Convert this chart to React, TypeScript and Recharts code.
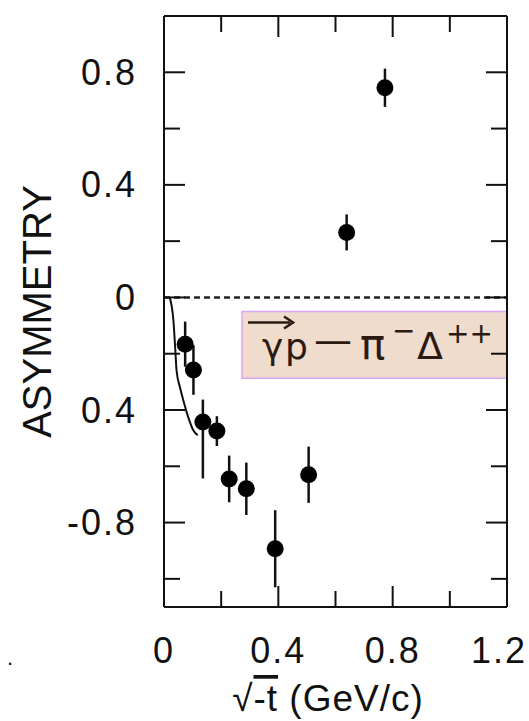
import React from 'react'
import {
  ComposedChart, Scatter, Line, XAxis, YAxis, ErrorBar,
  ReferenceLine, ReferenceArea
} from 'recharts'

const sqrtT = [0.074, 0.103, 0.136, 0.185, 0.228, 0.288, 0.389, 0.506, 0.639, 0.773]
const asymmetry = [-0.166, -0.258, -0.443, -0.475, -0.645, -0.68, -0.893, -0.63, 0.231, 0.745]
const asymErr: (number | [number, number])[] = [0.08, 0.088, [0.2, 0.08], 0.053, 0.083, 0.093, 0.137, 0.1, 0.064, 0.068]

// theory curve near t = 0
const curveT = [0.02, 0.033, 0.039, 0.044, 0.056, 0.068, 0.085, 0.103, 0.118]
const curveA = [0, -0.083, -0.177, -0.26, -0.32, -0.367, -0.426, -0.473, -0.49]

const xTicks = [0, 0.2, 0.4, 0.6, 0.8, 1.0, 1.2]
const xTickLabels = ['0', '', '0.4', '', '0.8', '', '1.2']
const yTicks = [-1.0, -0.8, -0.6, -0.4, -0.2, 0, 0.2, 0.4, 0.6, 0.8]
const yTickLabels = ['', '-0.8', '', '0.4', '', '0', '', '0.4', '', '0.8']

const points = sqrtT.map((t, i) => ({ t, a: asymmetry[i], err: asymErr[i] }))
const curve = curveT.map((t, i) => ({ t, a: curveA[i] }))

const INK = '#111'
const FONT = '"Liberation Sans", Arial, sans-serif'

// layout
const W = 529, H = 721
const TOP = 16, RIGHT = 22, Y_W = 164, X_H = 114
const PLOT_W = W - Y_W - RIGHT
const PLOT_H = H - TOP - X_H

const labelOf = (ticks: number[], labels: string[], v: number) => {
  const i = ticks.findIndex(t => Math.abs(t - v) < 1e-6)
  return i < 0 ? '' : labels[i]
}
const isMajor = (v: number) => Math.abs(v / 0.4 - Math.round(v / 0.4)) < 1e-6
const tickLen = (v: number) => (isMajor(v) ? 21 : 16)

// left axis: label + inward ticks on both the left and right sides
const LeftTick = ({ x, y, payload, index }: any) => {
  const label = labelOf(yTicks, yTickLabels, payload.value)
  const L = tickLen(payload.value)
  return (
    <g>
      <line x1={x} y1={y} x2={x + L} y2={y} stroke={INK} strokeWidth={2} />
      <line x1={x + PLOT_W} y1={y} x2={x + PLOT_W - L} y2={y} stroke={INK} strokeWidth={2} />
      {index === 0 && (
        <line x1={x + PLOT_W} y1={TOP} x2={x + PLOT_W} y2={TOP + PLOT_H} stroke={INK} strokeWidth={2} />
      )}
      {label && (
        <text x={x - 27} y={y} textAnchor="end" dominantBaseline="central"
          fontSize={36} fontFamily={FONT} letterSpacing={2} fill={INK}>{label}</text>
      )}
    </g>
  )
}

// bottom axis: label + inward ticks on both the bottom and top sides
const BottomTick = ({ x, y, payload, index }: any) => {
  const label = labelOf(xTicks, xTickLabels, payload.value)
  const L = tickLen(payload.value)
  const shift = payload.value > 1.1 ? -8 : 0
  return (
    <g>
      <line x1={x} y1={y} x2={x} y2={y - L} stroke={INK} strokeWidth={2} />
      <line x1={x} y1={y - PLOT_H} x2={x} y2={y - PLOT_H + L} stroke={INK} strokeWidth={2} />
      {index === 0 && (
        <line x1={Y_W} y1={y - PLOT_H} x2={Y_W + PLOT_W} y2={y - PLOT_H} stroke={INK} strokeWidth={2} />
      )}
      {label && (
        <text x={x + shift} y={y + 43} textAnchor="middle" dominantBaseline="central"
          fontSize={36} fontFamily={FONT} letterSpacing={2} fill={INK}>{label}</text>
      )}
    </g>
  )
}

const YTitle = ({ viewBox }: any) => {
  const cx = viewBox.x + 51
  const cy = viewBox.y + viewBox.height / 2
  return (
    <text x={cx} y={cy} transform={`rotate(-90 ${cx} ${cy})`} textAnchor="middle"
      fontSize={40} fontFamily={FONT} fill={INK}>ASYMMETRY</text>
  )
}

const XTitle = ({ viewBox }: any) => (
  <text x={viewBox.x + 164} y={viewBox.y + 104} textAnchor="middle"
    fontSize={37} fontFamily={FONT} letterSpacing={1} fill={INK}>
    √<tspan style={{ textDecoration: 'overline' }}>-t</tspan> (GeV/c)
  </text>
)

const ReactionLabel = ({ viewBox }: any) => {
  const { x, y } = viewBox
  const c = '#2a1a12'
  const f = '"DejaVu Sans", sans-serif'
  return (
    <g fill={c} fontFamily={f}>
      <line x1={x + 6} y1={y + 11} x2={x + 48} y2={y + 11} stroke={c} strokeWidth={2.5} />
      <path d={`M${x + 42} ${y + 5} L${x + 51} ${y + 11} L${x + 42} ${y + 17}`} fill="none" stroke={c} strokeWidth={2.5} />
      <text x={x + 20} y={y + 47} fontSize={36}>γ</text>
      <text x={x + 43} y={y + 47} fontSize={36}>p</text>
      <text x={x + 72} y={y + 41} fontSize={38}>—</text>
      <text x={x + 118} y={y + 47} fontSize={42}>π</text>
      <text x={x + 150} y={y + 28} fontSize={28}>−</text>
      <text x={x + 175} y={y + 47} fontSize={38}>Δ</text>
      <text x={x + 204} y={y + 31} fontSize={28}>++</text>
    </g>
  )
}

const Dot = ({ cx, cy }: any) => <circle cx={cx} cy={cy} r={8.5} fill="#000" />

export default function App() {
  return (
    <div style={{ position: 'absolute', left: 0, top: 0, width: W, height: H, background: '#fff' }}>
      <ComposedChart width={W} height={H} margin={{ top: TOP, right: RIGHT, bottom: 0, left: 0 }}>
        <XAxis dataKey="t" type="number" domain={[0, 1.2]} ticks={xTicks} interval={0}
          allowDataOverflow height={X_H} tickSize={0} tickMargin={0} tickLine={false}
          axisLine={{ stroke: INK, strokeWidth: 2 }} tick={<BottomTick />} label={<XTitle />} />
        <YAxis type="number" domain={[-1.1, 1.0]} ticks={yTicks} interval={0} allowDataOverflow
          width={Y_W} tickSize={0} tickMargin={0} tickLine={false}
          axisLine={{ stroke: INK, strokeWidth: 2 }} tick={<LeftTick />} label={<YTitle />} />

        <ReferenceLine y={0} stroke="#222" strokeWidth={2.5} strokeDasharray="6 4" />
        <ReferenceArea x1={0.273} x2={1.199} y1={-0.287} y2={-0.05} ifOverflow="visible"
          fill="#efdccd" fillOpacity={1} stroke="#dba6f5" strokeWidth={1.5}
          label={<ReactionLabel />} />

        <Line data={curve} dataKey="a" type="monotone" dot={false} stroke={INK}
          strokeWidth={2} isAnimationActive={false} />
        <Scatter data={points} dataKey="a" shape={<Dot />} isAnimationActive={false}>
          <ErrorBar dataKey="err" direction="y" width={0} stroke={INK} strokeWidth={2.5} />
        </Scatter>
      </ComposedChart>
      <span style={{ position: 'absolute', left: 7, top: 645, fontSize: 22, fontFamily: FONT, color: INK }}>.</span>
    </div>
  )
}
